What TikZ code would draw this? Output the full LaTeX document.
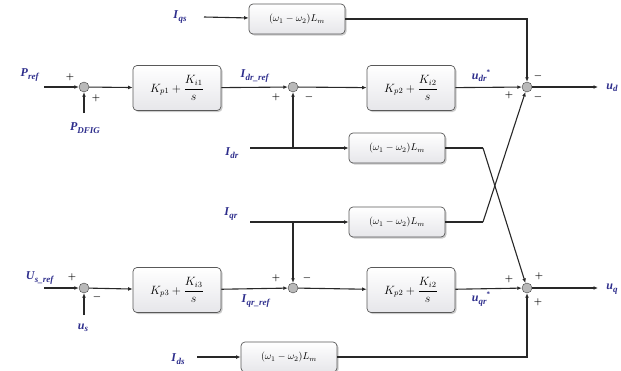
\documentclass[tikz,border=0pt]{standalone}
\usepackage{amsmath}
\usepackage{fontspec}
\setmainfont{Liberation Serif}
\usepackage{tikz}
\usetikzlibrary{arrows.meta,positioning,calc,shadows}
\definecolor{lblue}{RGB}{46,46,140}
\definecolor{wire}{RGB}{40,40,40}
\newcommand{\sig}[2]{\textbf{\textit{#1}}\raisebox{-0.45ex}{\small\textbf{\textit{#2}}}}
\newcommand{\sigst}[2]{\sig{#1}{#2}\raisebox{0.9ex}{\scriptsize\textbf{*}}}

\begin{document}
\begin{tikzpicture}[x=1pt, y=-1pt,
  box/.style={draw=gray!70!black, line width=0.7pt, rounded corners=4pt, align=center, top color=white, bottom color=blue!8!gray!18, drop shadow={shadow xshift=1.5pt, shadow yshift=-1.5pt, opacity=0.4}, inner sep=2pt},
  pibox/.style={box, minimum width=88pt, minimum height=45pt, font=\large},
  lmbox/.style={box, minimum width=96pt, minimum height=30pt, font=\normalsize},
  sum/.style={circle, draw=gray!50!black, fill=gray!55, minimum size=10pt, inner sep=0pt},
  arrow/.style={-{Latex[length=4.5pt, width=3.8pt]}, draw=wire, line width=1.1pt},
  line/.style={draw=wire, line width=1.1pt},
  lbl/.style={font=\large, text=lblue, inner sep=1pt},
  pm/.style={font=\small\boldmath, inner sep=0pt}
]
\useasboundingbox (0,0) rectangle (621,370);

\node[sum] (s1) at (84,87) {};
\node[sum] (s2) at (293,87) {};
\node[sum] (s3) at (527,87) {};
\node[sum] (s5) at (84,288) {};
\node[sum] (s6) at (293,288) {};
\node[sum] (s7) at (527,288) {};

\node[pibox] (pi1) at (177,88) {$K_{p1}+\dfrac{K_{i1}}{s}$};
\node[pibox] (pi2) at (411,88) {$K_{p2}+\dfrac{K_{i2}}{s}$};
\node[pibox] (pi3) at (177,290) {$K_{p3}+\dfrac{K_{i3}}{s}$};
\node[pibox] (pi4) at (411,290) {$K_{p2}+\dfrac{K_{i2}}{s}$};

\node[lmbox] (lm1) at (297,19) {$(\omega_1-\omega_2)L_m$};
\node[lmbox] (lm2) at (397,148) {$(\omega_1-\omega_2)L_m$};
\node[lmbox] (lm3) at (397,222) {$(\omega_1-\omega_2)L_m$};
\node[lmbox] (lm4) at (289,357) {$(\omega_1-\omega_2)L_m$};

\node[lbl] (lIqs) at (180,17) {\sig{I}{qs}};
\node[lbl] (lPref) at (30,75) {\sig{P}{ref}};
\node[lbl] (lPdfig) at (85,128) {\sig{P}{DFIG}};
\node[lbl] (lIdrref) at (255,76) {\sig{I}{dr\_ref}};
\node[lbl] (lIdr) at (232,153) {\sig{I}{dr}};
\node[lbl] (lIqr) at (231,214) {\sig{I}{qr}};
\node[lbl] (lUsref) at (40,278) {\sig{U}{s\_ref}};
\node[lbl] (lus) at (83,328) {\sig{u}{s}};
\node[lbl] (lIqrref) at (256,301) {\sig{I}{qr\_ref}};
\node[lbl] (lIds) at (178,359) {\sig{I}{ds}};
\node[lbl] (ludr) at (481,76) {\sigst{u}{dr}};
\node[lbl] (luqr) at (481,299) {\sigst{u}{qr}};
\node[lbl] (lud) at (612,88) {\sig{u}{d}};
\node[lbl] (luq) at (612,289) {\sig{u}{q}};

\coordinate (inP) at (44,87);
\coordinate (inPd) at (84,113);
\coordinate (inIqs) at (204,17);
\coordinate (inIdr) at (250,148);
\coordinate (inIqr) at (250,222);
\coordinate (inU) at (44,288);
\coordinate (inus) at (84,315);
\coordinate (inIds) at (197,357);
\coordinate (outd) at (598,87);
\coordinate (outq) at (598,288);
\coordinate (k1) at (483,148);
\coordinate (k2) at (483,222);

\draw[arrow] (inP) -- (s1);
\draw[arrow] (inPd) -- (s1);
\draw[arrow] (s1) -- (pi1);
\draw[arrow] (pi1) -- (s2);
\draw[arrow] (s2) -- (pi2);
\draw[arrow] (pi2) -- (s3);
\draw[arrow] (s3) -- (outd);
\draw[arrow] (inIqs) -- (lm1);
\draw[arrow] (lm1.east) -| (s3);
\draw[arrow] (inIdr) -- (lm2);
\draw[arrow] (s2 |- inIdr) -- (s2);
\draw[line] (lm2.east) -- (k1);
\draw[arrow] (k1) -- (s7);
\draw[arrow] (inIqr) -- (lm3);
\draw[arrow] (s6 |- inIqr) -- (s6);
\draw[line] (lm3.east) -- (k2);
\draw[arrow] (k2) -- (s3);

\draw[arrow] (inU) -- (s5);
\draw[arrow] (inus) -- (s5);
\draw[arrow] (s5) -- (pi3);
\draw[arrow] (pi3) -- (s6);
\draw[arrow] (s6) -- (pi4);
\draw[arrow] (pi4) -- (s7);
\draw[arrow] (s7) -- (outq);
\draw[arrow] (inIds) -- (lm4);
\draw[arrow] (lm4.east) -| (s7);

\node[pm] at ($(s1)+(-14,-10)$) {$+$};
\node[pm] at ($(s1)+(12,11)$) {$+$};
\node[pm] at ($(s2)+(-17,10)$) {$+$};
\node[pm] at ($(s2)+(16,10)$) {$-$};
\node[pm] at ($(s3)+(11,-11)$) {$-$};
\node[pm] at ($(s3)+(-18,8)$) {$+$};
\node[pm] at ($(s3)+(11,10)$) {$-$};
\node[pm] at ($(s5)+(-12,-11)$) {$+$};
\node[pm] at ($(s5)+(13,9)$) {$-$};
\node[pm] at ($(s6)+(-17,-10)$) {$+$};
\node[pm] at ($(s6)+(14,-10)$) {$-$};
\node[pm] at ($(s7)+(-18,-9)$) {$+$};
\node[pm] at ($(s7)+(12,-12)$) {$+$};
\node[pm] at ($(s7)+(11,14)$) {$+$};
\end{tikzpicture}
\end{document}
